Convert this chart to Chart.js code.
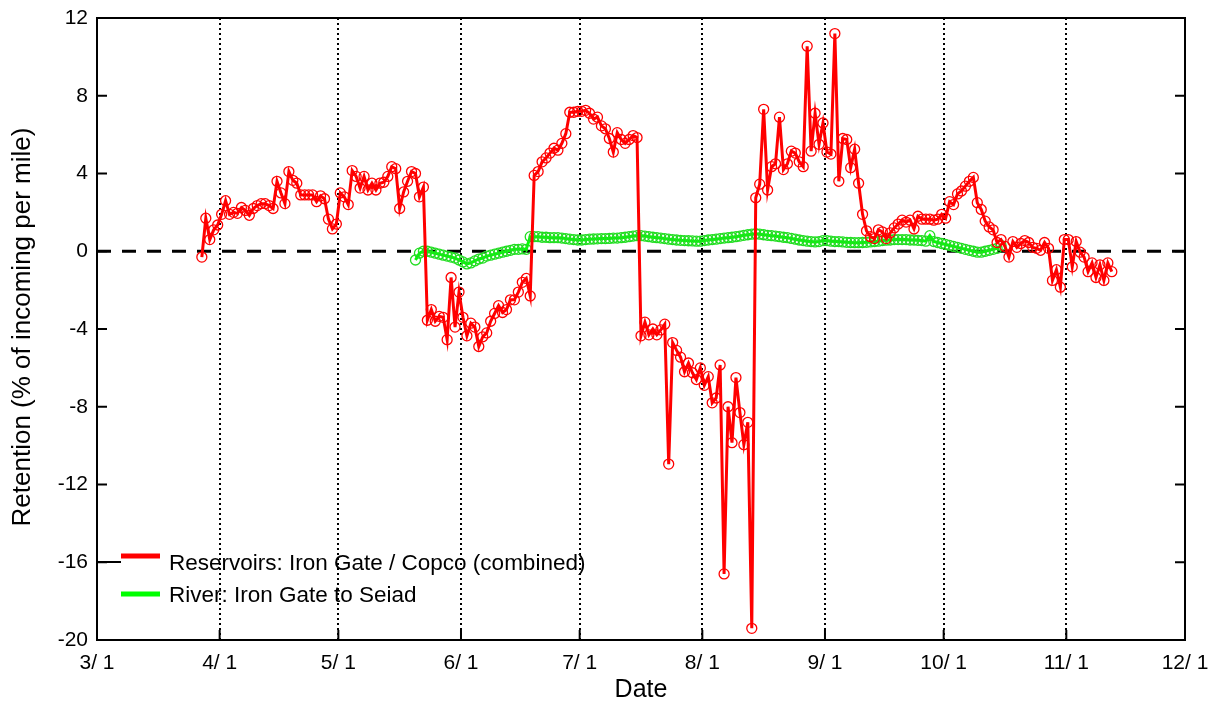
<!DOCTYPE html>
<html>
<head>
<meta charset="utf-8">
<script src="https://cdn.jsdelivr.net/npm/chart.js@4.4.1/dist/chart.umd.min.js"></script>
<style>
  html, body { margin: 0; padding: 0; background: #ffffff; }
  #wrap { width: 1215px; height: 704px; position: relative; }
</style>
</head>
<body>
<div id="wrap"><canvas id="c" width="1215" height="704"></canvas></div>
<script>
// ---- data (x = days after 3/1) ----
const monthTickDays = [0, 31, 61, 92, 122, 153, 184, 214, 245, 275];
const monthTickLabels = ['3/ 1', '4/ 1', '5/ 1', '6/ 1', '7/ 1', '8/ 1', '9/ 1', '10/ 1', '11/ 1', '12/ 1'];
const yTickValues = [-20, -16, -12, -8, -4, 0, 4, 8, 12];

const reservoirLabel = 'Reservoirs: Iron Gate / Copco (combined)';
const reservoirFirstDay = 26.5;
const reservoirValues = [
  -0.3, 1.7, 0.6, 1.1, 1.35, 1.9, 2.6, 1.9, 2.0, 1.95,
  2.25, 2.1, 1.85, 2.2, 2.35, 2.45, 2.45, 2.35, 2.2, 3.6,
  3.0, 2.45, 4.1, 3.65, 3.5, 2.9, 2.9, 2.9, 2.9, 2.55,
  2.85, 2.7, 1.65, 1.15, 1.4, 3.0, 2.8, 2.4, 4.15, 3.85,
  3.25, 3.85, 3.15, 3.5, 3.15, 3.5, 3.55, 3.85, 4.35, 4.25,
  2.2, 3.05, 3.6, 4.1, 4.0, 2.8, 3.3, -3.55, -3.0, -3.6,
  -3.35, -3.4, -4.55, -1.35, -3.9, -2.1, -3.4, -4.35, -3.7, -3.9,
  -4.9, -4.4, -4.2, -3.6, -3.2, -2.8, -3.15, -3.0, -2.5, -2.5,
  -2.1, -1.6, -1.4, -2.3, 3.9, 4.1, 4.6, 4.8, 5.05, 5.3,
  5.2, 5.55, 6.05, 7.15, 7.15, 7.2, 7.2, 7.25, 7.1, 6.8,
  6.9, 6.45, 6.3, 5.8, 5.1, 6.1, 5.75, 5.55, 5.75, 5.95,
  5.85, -4.35, -3.65, -4.3, -4.0, -4.3, -4.05, -3.75, -10.95, -4.7,
  -5.1, -5.45, -6.2, -5.75, -6.25, -6.6, -6.0, -6.9, -6.45, -7.8,
  -7.55, -5.85, -16.6, -8.0, -9.85, -6.5, -8.3, -9.95, -8.8, -19.4,
  2.75, 3.45, 7.3, 3.15, 4.35, 4.5, 6.9, 4.2, 4.5, 5.15,
  5.05, 4.6, 4.35, 10.55, 5.15, 7.1, 5.5, 6.6, 5.1, 5.0,
  11.2, 3.6, 5.8, 5.75, 4.3, 5.25, 3.5, 1.9, 1.05, 0.75,
  0.65, 1.1, 1.0, 0.65, 0.95, 1.2, 1.4, 1.6, 1.5, 1.6,
  1.15, 1.8, 1.65, 1.65, 1.65, 1.6, 1.65, 1.9, 1.7, 2.55,
  2.4, 2.95, 3.1, 3.35, 3.6, 3.8, 2.5, 2.15, 1.55, 1.25,
  1.1, 0.45, 0.6, 0.25, -0.3, 0.5, 0.2, 0.4, 0.55, 0.45,
  0.2, 0.15, 0.05, 0.45, 0.15, -1.5, -0.95, -1.85, 0.6, 0.6,
  -0.8, 0.5, -0.05, -0.3, -1.05, -0.6, -1.35, -0.7, -1.5, -0.6, -1.05
];

const riverLabel = 'River: Iron Gate to Seiad';
const riverFirstDay = 80.5;
const riverValues = [
  -0.45, -0.1, 0.0, 0.0, -0.05, -0.1, -0.15, -0.2, -0.25, -0.3,
  -0.35, -0.45, -0.55, -0.65, -0.6, -0.5, -0.4, -0.35, -0.25, -0.2,
  -0.15, -0.1, -0.05, 0.0, 0.05, 0.1, 0.1, 0.12, 0.1, 0.75,
  0.75, 0.75, 0.72, 0.72, 0.7, 0.7, 0.7, 0.68, 0.65, 0.62,
  0.6, 0.58, 0.58, 0.6, 0.62, 0.63, 0.64, 0.65, 0.65, 0.66,
  0.68, 0.68, 0.7, 0.72, 0.75, 0.78, 0.8, 0.8, 0.78, 0.75,
  0.72, 0.7, 0.68, 0.65, 0.62, 0.6, 0.58, 0.56, 0.55, 0.54,
  0.53, 0.52, 0.52, 0.55, 0.58, 0.6, 0.62, 0.65, 0.68, 0.7,
  0.72, 0.75, 0.78, 0.82, 0.85, 0.88, 0.9, 0.88, 0.85, 0.82,
  0.8, 0.78, 0.75, 0.72, 0.7, 0.66, 0.62, 0.58, 0.55, 0.52,
  0.5, 0.48, 0.5, 0.55, 0.55, 0.52, 0.5, 0.5, 0.48, 0.46,
  0.45, 0.44, 0.44, 0.45, 0.46, 0.48, 0.5, 0.52, 0.55, 0.57,
  0.58, 0.6, 0.6, 0.6, 0.6, 0.58, 0.58, 0.56, 0.55, 0.52,
  0.8, 0.5, 0.45, 0.4, 0.35, 0.3, 0.25, 0.2, 0.15, 0.1,
  0.05, 0.0, -0.05, -0.05, 0.0, 0.05, 0.1, 0.15, 0.3
];

const xTitle = 'Date';
const yTitle = 'Retention (% of incoming per mile)';

// ---- build ----
const toPoints = (first, vals) => vals.map((v, i) => ({ x: first + i, y: v }));
const FONT = '"Liberation Sans", Arial, Helvetica, sans-serif';
const RED = '#ff0000';
const GREEN = '#00ff00';

const framePlugin = {
  id: 'frame',
  beforeDatasetsDraw(chart) {
    const { ctx, chartArea: a, scales: { x, y } } = chart;
    ctx.save();
    ctx.strokeStyle = '#000';
    ctx.lineWidth = 2;
    ctx.setLineDash([2, 3]);
    monthTickDays.slice(1, -1).forEach(d => {
      const px = Math.round(x.getPixelForValue(d));
      ctx.beginPath();
      ctx.moveTo(px, a.top);
      ctx.lineTo(px, a.bottom);
      ctx.stroke();
    });
    ctx.lineWidth = 3;
    ctx.setLineDash([14, 11]);
    const y0 = y.getPixelForValue(0);
    ctx.beginPath();
    ctx.moveTo(a.left, y0);
    ctx.lineTo(a.right, y0);
    ctx.stroke();
    ctx.restore();
  },
  afterDatasetsDraw(chart) {
    const { ctx, chartArea: a, scales: { x, y } } = chart;
    ctx.save();
    ctx.strokeStyle = '#000';
    ctx.lineWidth = 2;
    ctx.setLineDash([]);
    ctx.strokeRect(a.left, a.top, a.right - a.left, a.bottom - a.top);
    const tl = 10;
    ctx.beginPath();
    yTickValues.forEach(v => {
      const py = y.getPixelForValue(v);
      ctx.moveTo(a.left, py); ctx.lineTo(a.left + tl, py);
      ctx.moveTo(a.right, py); ctx.lineTo(a.right - tl, py);
    });
    monthTickDays.forEach(d => {
      const px = x.getPixelForValue(d);
      ctx.moveTo(px, a.bottom); ctx.lineTo(px, a.bottom - tl);
    });
    ctx.stroke();

    // legend
    ctx.font = '22.5px ' + FONT;
    ctx.fillStyle = '#000';
    ctx.textBaseline = 'alphabetic';
    ctx.textAlign = 'left';
    ctx.lineWidth = 2;
    ctx.strokeStyle = '#000';
    ctx.beginPath(); ctx.moveTo(a.left, 562); ctx.lineTo(121, 562); ctx.stroke();
    ctx.lineWidth = 5;
    ctx.strokeStyle = RED;
    ctx.beginPath(); ctx.moveTo(121, 556); ctx.lineTo(160, 556); ctx.stroke();
    ctx.fillText(reservoirLabel, 169, 570);
    ctx.strokeStyle = GREEN;
    ctx.beginPath(); ctx.moveTo(121, 594); ctx.lineTo(160, 594); ctx.stroke();
    ctx.fillText(riverLabel, 169, 602);

    // axis titles
    ctx.font = '25px ' + FONT;
    ctx.textAlign = 'center';
    ctx.textBaseline = 'middle';
    ctx.fillText(xTitle, (a.left + a.right) / 2, 690);
    ctx.font = '26px ' + FONT;
    ctx.translate(23, (a.top + a.bottom) / 2 - 2);
    ctx.rotate(-Math.PI / 2);
    ctx.fillText(yTitle, 0, 0);
    ctx.restore();
  }
};

new Chart(document.getElementById('c'), {
  type: 'line',
  data: {
    datasets: [
      {
        label: reservoirLabel,
        data: toPoints(reservoirFirstDay, reservoirValues),
        borderColor: RED,
        borderWidth: 3,
        pointRadius: 5,
        pointBorderWidth: 1.3,
        pointBorderColor: RED,
        pointBackgroundColor: 'rgba(0,0,0,0)',
        tension: 0
      },
      {
        label: riverLabel,
        data: toPoints(riverFirstDay, riverValues),
        borderColor: GREEN,
        borderWidth: 3,
        pointRadius: 5,
        pointBorderWidth: 1.3,
        pointBorderColor: '#22dd22',
        pointBackgroundColor: 'rgba(0,0,0,0)',
        tension: 0
      }
    ]
  },
  options: {
    responsive: false,
    animation: false,
    events: [],
    layout: { padding: { top: 18, right: 30, left: 0, bottom: 0 } },
    plugins: { legend: { display: false }, tooltip: { enabled: false } },
    scales: {
      x: {
        type: 'linear',
        min: 0, max: 275,
        afterBuildTicks: s => { s.ticks = monthTickDays.map(v => ({ value: v })); },
        afterFit: s => { s.height = 64; s.paddingLeft = 0; s.paddingRight = 0; },
        grid: { display: false, drawTicks: false },
        border: { display: false },
        ticks: {
          padding: 11,
          color: '#000',
          font: { family: FONT, size: 21 },
          maxRotation: 0,
          autoSkip: false,
          callback: v => monthTickLabels[monthTickDays.indexOf(v)] ?? ''
        }
      },
      y: {
        min: -20, max: 12,
        afterBuildTicks: s => { s.ticks = yTickValues.map(v => ({ value: v })); },
        afterFit: s => { s.width = 97; s.paddingTop = 0; s.paddingBottom = 0; },
        grid: { display: false, drawTicks: false },
        border: { display: false },
        ticks: {
          padding: 9,
          color: '#000',
          font: { family: FONT, size: 21 },
          autoSkip: false,
          callback: v => String(v)
        }
      }
    }
  },
  plugins: [framePlugin]
});
</script>
</body>
</html>
